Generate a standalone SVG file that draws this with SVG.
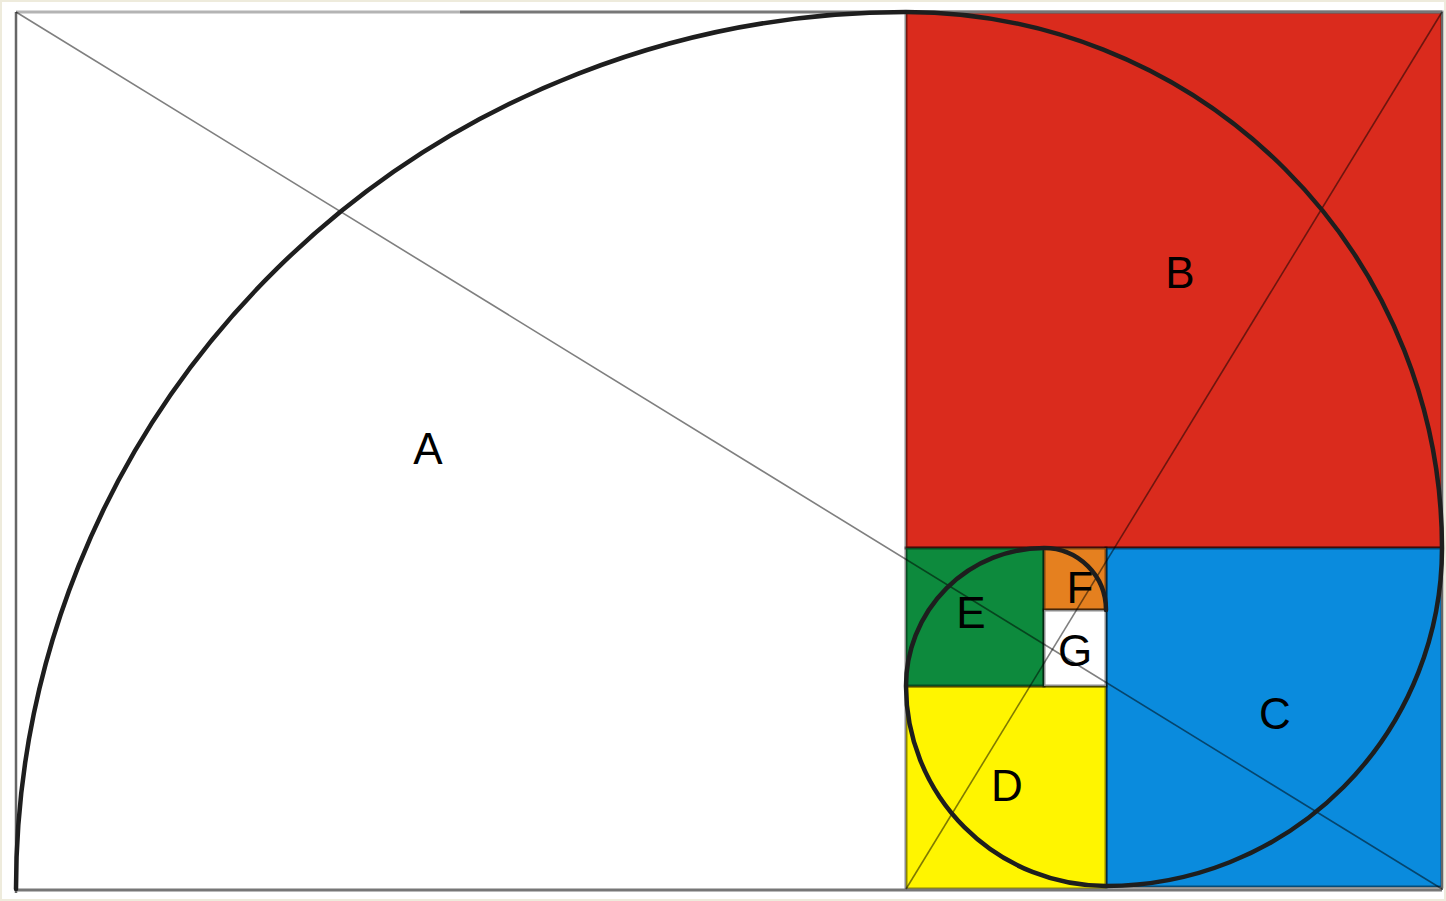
<svg xmlns="http://www.w3.org/2000/svg" width="1446" height="901" viewBox="0 0 1446 901">
<style>
.sq{stroke:#000;stroke-opacity:0.45;stroke-width:3}
.lbl{font-family:"Liberation Sans",Arial,sans-serif;font-size:44px;fill:#000;text-anchor:middle}
.diag{fill:none;stroke:#000;stroke-opacity:0.5;stroke-width:1.6}
.spiral{fill:none;stroke:#1e1e1e;stroke-width:4.5;stroke-linecap:round}
</style>
<rect x="0" y="0" width="1446" height="901" fill="#fff"/>
<rect x="1" y="1" width="1444" height="899" fill="none" stroke="#eeebdc" stroke-width="2"/>
<g id="A"><rect x="16" y="12" width="890" height="877" fill="#fff"/><text class="lbl" x="428" y="464">A</text></g>
<g id="B"><rect class="sq" x="906" y="12" width="536" height="536" fill="#da2b1d"/><text class="lbl" x="1180" y="288">B</text></g>
<g id="C"><rect class="sq" x="1106" y="548" width="336" height="339" fill="#0a8bdd"/><text class="lbl" x="1275" y="729">C</text></g>
<g id="D"><rect class="sq" x="906" y="686" width="200" height="203" fill="#fff500"/><text class="lbl" x="1007" y="801">D</text></g>
<g id="E"><rect class="sq" x="906" y="548" width="138" height="138" fill="#0d8a3d"/><text class="lbl" x="971" y="628">E</text></g>
<g id="F"><rect class="sq" x="1044" y="548" width="62" height="62" fill="#e5801f"/><text class="lbl" x="1080" y="603">F</text></g>
<g id="G"><rect class="sq" x="1044" y="610" width="62" height="76" fill="#fff"/><text class="lbl" x="1075" y="666">G</text></g>
<g id="frame" fill="none">
<line x1="16" y1="12" x2="460" y2="12" stroke="#b4b4b4" stroke-width="3"/>
<line x1="460" y1="12" x2="1442" y2="12" stroke="#777" stroke-width="3"/>
<line x1="16" y1="12" x2="16" y2="893" stroke="#666" stroke-width="2.5"/>
<line x1="16" y1="890" x2="1442" y2="890" stroke="#777" stroke-width="3"/>
<line x1="1442" y1="12" x2="1442" y2="890" stroke="#666" stroke-width="2"/>
</g>
<g id="connectors">
<line class="diag" x1="16" y1="12" x2="1442" y2="889"/>
<line class="diag" x1="906" y1="889" x2="1442" y2="12"/>
<path class="spiral" d="M16,889 A890,877 0 0 1 906,12 A536,536 0 0 1 1442,548 A336,338 0 0 1 1106,886 A200,200 0 0 1 906,686 A138,138 0 0 1 1044,548 A62,62 0 0 1 1106,610"/>
</g>
</svg>
